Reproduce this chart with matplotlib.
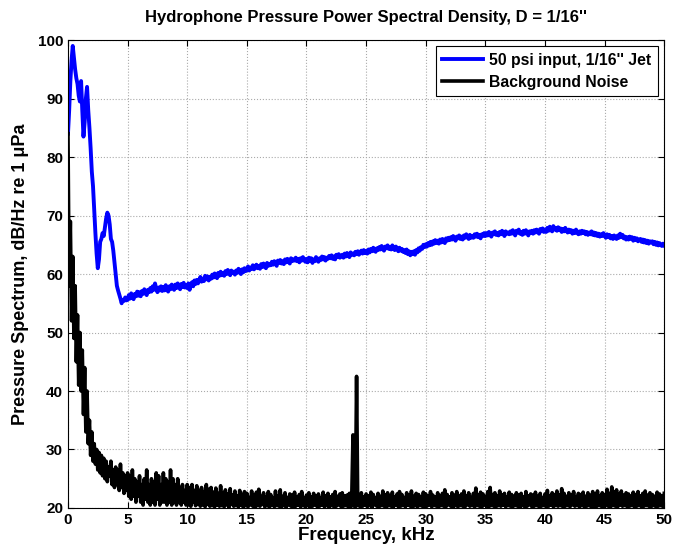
import numpy as np
import matplotlib
matplotlib.use('Agg')
import matplotlib.pyplot as plt

plt.rcParams['font.family'] = ['Liberation Sans', 'DejaVu Sans']
plt.rcParams['font.weight'] = 'bold'

# jet spectrum, one value every 0.1 kHz (rows = 1 kHz)
freq_jet = np.arange(501) * 0.1
psd_jet = [
    84, 88, 93, 96.5, 99, 97, 95, 93.5, 92.5, 90.5,
    89.5, 93, 88, 83.5, 86, 90, 92, 88, 85, 81.5,
    77.5, 75, 71, 67, 63.5, 61, 62.5, 65.5, 66, 67,
    66.5, 68, 69.5, 70.5, 70, 68.5, 66, 65.5, 64, 62,
    60, 58, 57.2, 56.5, 55.8, 55.0, 55.6, 55.4, 56.0, 55.5,
    55.6, 56.4, 55.8, 56.7, 56.1, 55.7, 56.6, 56.2, 57.0, 56.3,
    56.9, 56.2, 57.1, 56.6, 57.4, 56.8, 56.4, 57.3, 56.9, 57.6,
    57.0, 57.9, 57.3, 58.4, 57.5, 56.9, 57.7, 57.2, 57.9, 57.1,
    57.8, 57.2, 58.1, 57.5, 57.0, 57.9, 57.4, 58.2, 57.6, 57.3,
    58.2, 57.6, 58.4, 57.9, 57.4, 58.3, 57.8, 58.5, 57.7, 58.1,
    57.6, 58.4, 57.3, 58.2, 58.6, 57.9, 58.9, 58.3, 59.0, 58.4,
    58.9, 59.5, 58.7, 59.2, 58.8, 59.7, 59.1, 59.6, 58.9, 59.5,
    59.2, 59.9, 59.4, 60.1, 59.6, 59.3, 60.2, 59.7, 60.4, 59.8,
    60.2, 59.7, 60.5, 60.0, 60.7, 60.1, 59.8, 60.6, 60.2, 60.4,
    59.9, 60.6, 60.2, 60.9, 60.4, 60.0, 60.8, 60.3, 61.0, 60.5,
    60.8, 61.3, 60.6, 61.1, 60.9, 61.5, 60.8, 61.2, 61.6, 61.0,
    61.4, 60.9, 61.7, 61.2, 61.8, 61.3, 61.0, 61.9, 61.4, 61.7,
    61.5, 62.1, 61.6, 62.2, 61.8, 61.4, 62.3, 61.9, 62.4, 61.8,
    62.2, 61.7, 62.5, 62.0, 62.6, 62.1, 61.8, 62.7, 62.2, 62.5,
    62.3, 62.8, 62.2, 62.6, 62.0, 62.7, 62.3, 62.9, 62.4, 62.1,
    62.6, 62.0, 62.8, 62.3, 62.7, 61.9, 62.5, 62.2, 62.9, 62.4,
    62.1, 62.7, 62.4, 63.0, 62.5, 62.9, 62.3, 62.8, 62.6, 63.1,
    62.7, 63.2, 62.6, 63.0, 62.5, 63.3, 62.9, 63.4, 62.8, 63.1,
    63.3, 62.8, 63.5, 63.0, 63.6, 63.2, 62.9, 63.7, 63.3, 63.5,
    63.2, 63.8, 63.4, 63.9, 63.3, 63.7, 64.0, 63.5, 64.1, 63.6,
    63.9, 63.5, 64.2, 63.7, 64.3, 63.9, 64.5, 64.0, 63.8, 64.4,
    64.1, 64.6, 64.2, 64.8, 64.3, 64.0, 64.7, 64.4, 64.9, 64.3,
    64.6, 64.2, 64.9, 64.4, 64.1, 64.7, 64.3, 63.9, 64.5, 64.0,
    64.3, 63.8, 64.1, 63.6, 64.2, 63.4, 63.9, 63.2, 63.8, 63.4,
    63.9, 63.3, 64.1, 63.7, 64.4, 64.0, 64.6, 64.3, 65.0, 64.6,
    65.1, 64.7, 65.3, 64.9, 65.5, 65.0, 65.6, 65.2, 65.8, 65.3,
    65.7, 65.2, 65.9, 65.4, 66.0, 65.6, 65.3, 66.1, 65.7, 66.2,
    65.8, 66.3, 65.9, 66.5, 66.0, 65.7, 66.4, 66.1, 66.6, 66.0,
    66.4, 65.9, 66.6, 66.2, 66.8, 66.3, 66.0, 66.7, 66.2, 66.5,
    66.2, 66.8, 66.4, 66.9, 66.3, 66.7, 66.1, 66.8, 66.5, 67.0,
    66.5, 67.0, 66.6, 67.2, 66.7, 66.4, 67.1, 66.8, 67.3, 66.7,
    67.0, 66.6, 67.2, 66.8, 67.4, 66.9, 66.5, 67.3, 66.9, 67.1,
    66.8, 67.3, 66.9, 67.5, 67.0, 66.6, 67.4, 67.1, 67.6, 66.9,
    67.2, 66.7, 67.4, 66.9, 67.5, 67.0, 66.6, 67.3, 67.0, 67.4,
    66.9, 67.5, 67.1, 67.6, 67.2, 66.9, 67.7, 67.3, 67.8, 67.2,
    67.6, 67.2, 67.9, 67.4, 68.1, 67.5, 67.3, 68.2, 67.6, 67.9,
    67.4, 68.0, 67.5, 67.8, 67.2, 67.7, 67.3, 67.9, 67.4, 67.1,
    67.6, 67.2, 67.5, 66.9, 67.4, 67.0, 67.6, 67.1, 66.8, 67.3,
    66.9, 67.4, 67.0, 67.3, 66.8, 67.2, 66.7, 67.1, 66.8, 67.3,
    66.7, 67.1, 66.6, 67.0, 66.5, 66.9, 66.4, 66.8, 66.5, 67.0,
    66.6, 66.2, 66.8, 66.3, 66.7, 66.1, 66.5, 66.0, 66.6, 66.3,
    66.0, 66.6, 66.2, 66.9, 66.3, 66.7, 66.1, 66.4, 65.9, 66.3,
    65.9, 66.4, 66.0, 66.3, 65.7, 66.2, 65.8, 66.1, 65.6, 65.9,
    66.0, 65.5, 65.9, 65.4, 65.8, 65.3, 65.7, 65.2, 65.6, 65.4,
    65.6, 65.1, 65.5, 65.0, 65.4, 64.9, 65.3, 65.0, 64.8, 65.2,
    64.9,
]

# background noise, one value every 0.1 kHz (rows = 1 kHz)
freq_bg = np.arange(501) * 0.1
psd_bg = [
    84, 58, 69, 52, 63, 49, 58, 45, 53, 41,
    50, 40, 47, 36, 44, 33, 40, 31, 35, 29,
    33, 28, 31, 27.5, 30, 26.5, 29.5, 26, 29, 25.5,
    28.5, 25, 28, 24.5, 27, 25.5, 28, 24, 26.5, 23.5,
    27, 24, 26.5, 23, 27.5, 23.5, 26, 22.5, 25.5, 23,
    26, 22, 25.5, 21.5, 26.5, 22, 25, 21, 24.5, 22,
    25.5, 21, 24, 20.5, 25, 21.5, 26.5, 21, 24, 20.5,
    25, 21, 24.5, 20.5, 26, 21.5, 25.5, 20.5, 24, 21,
    26, 21, 25, 20.5, 24.5, 21, 26.5, 20.5, 25, 21,
    24, 20.5, 25, 21, 23.5, 20.5, 24, 21, 23, 20.5,
    24, 20.5, 23.5, 20.3, 24, 21, 23, 20.4, 23.8, 20.6,
    23, 20.3, 23.5, 20.5, 22.8, 20.2, 24, 20.6, 23.2, 20.3,
    23.5, 20.4, 22.7, 20.2, 23.4, 20.5, 22.5, 20.3, 23.8, 20.4,
    22.6, 20.2, 23.1, 20.5, 22.4, 20.1, 23.3, 20.6, 22.2, 20.3,
    22.9, 20.4, 22.1, 20.2, 23.0, 20.5, 22.3, 20.1, 22.8, 20.4,
    22.5, 20.2, 21.8, 20.5, 22.9, 20.3, 22.2, 20.1, 22.7, 20.4,
    23.2, 20.3, 22.0, 20.6, 22.6, 20.2, 21.9, 20.4, 22.8, 20.1,
    22.3, 20.5, 21.7, 20.2, 22.9, 20.4, 22.1, 20.3, 23.1, 20.2,
    22.0, 20.4, 22.6, 20.1, 21.8, 20.5, 22.4, 20.3, 22.2, 20.1,
    22.7, 20.3, 21.9, 20.5, 22.3, 20.2, 22.8, 20.4, 21.7, 20.2,
    22.2, 20.4, 22.6, 20.1, 21.9, 20.3, 22.5, 20.5, 22.0, 20.2,
    22.4, 20.3, 21.8, 20.5, 22.7, 20.2, 22.1, 20.4, 22.5, 20.1,
    21.9, 20.4, 22.3, 20.2, 22.8, 20.3, 22.0, 20.5, 22.4, 20.2,
    22.6, 20.3, 22.1, 20.4, 22.2, 20.2, 22.5, 20.1, 22.3, 32.5,
    20.3, 20.2, 42.5, 20.4, 22.0, 20.2, 22.6, 20.3, 21.9, 20.5,
    22.4, 20.2, 22.1, 20.4, 22.7, 20.1, 22.3, 20.5, 21.8, 20.3,
    22.5, 20.2, 22.0, 20.4, 22.9, 20.3, 22.2, 20.1, 22.6, 20.4,
    22.1, 20.3, 22.7, 20.2, 21.9, 20.5, 22.4, 20.2, 22.8, 20.3,
    22.3, 20.4, 21.8, 20.2, 22.6, 20.5, 22.2, 20.3, 22.9, 20.1,
    22.0, 20.4, 22.5, 20.2, 22.3, 20.4, 21.9, 20.3, 22.7, 20.2,
    22.4, 20.3, 22.1, 20.5, 22.8, 20.2, 22.2, 20.4, 21.9, 20.3,
    22.6, 20.2, 22.0, 20.4, 22.5, 20.3, 23.1, 20.2, 22.3, 20.5,
    21.9, 20.3, 22.6, 20.1, 22.2, 20.4, 22.8, 20.2, 22.0, 20.4,
    22.4, 20.3, 22.9, 20.2, 22.1, 20.5, 22.6, 20.3, 21.8, 20.4,
    22.5, 20.2, 23.4, 20.4, 22.2, 20.3, 22.7, 20.1, 22.4, 20.5,
    22.0, 20.3, 22.8, 20.2, 23.5, 20.4, 22.3, 20.3, 22.6, 20.2,
    22.1, 20.4, 22.9, 20.3, 22.2, 20.5, 22.5, 20.2, 21.9, 20.4,
    22.7, 20.3, 22.3, 20.2, 22.0, 20.4, 22.6, 20.3, 22.2, 20.1,
    22.5, 20.4, 21.9, 20.2, 22.8, 20.3, 22.1, 20.5, 22.4, 20.2,
    22.2, 20.3, 22.7, 20.4, 22.0, 20.2, 22.5, 20.3, 21.8, 20.4,
    22.4, 20.2, 23.0, 20.3, 22.1, 20.5, 22.6, 20.2, 22.3, 20.4,
    22.9, 20.3, 22.2, 20.4, 23.3, 20.2, 22.5, 20.3, 22.0, 20.4,
    22.6, 20.2, 22.2, 20.5, 22.8, 20.3, 21.9, 20.4, 22.5, 20.2,
    22.3, 20.4, 22.7, 20.2, 22.0, 20.3, 22.6, 20.4, 22.2, 20.1,
    22.8, 20.3, 22.4, 20.2, 22.9, 20.4, 22.1, 20.3, 22.6, 20.2,
    22.3, 20.4, 23.2, 20.3, 22.5, 20.2, 23.6, 20.4, 22.7, 20.3,
    23.1, 20.2, 22.4, 20.5, 22.9, 20.3, 22.2, 20.4, 22.6, 20.2,
    22.4, 20.3, 22.0, 20.4, 22.7, 20.2, 22.3, 20.3, 22.8, 20.4,
    22.1, 20.2, 22.5, 20.3, 22.9, 20.4, 22.2, 20.3, 22.6, 20.2,
    22.3, 20.4, 22.0, 20.2, 22.7, 20.3, 22.4, 20.4, 22.1, 20.2,
    22.5,
]

fig = plt.figure(figsize=(6.73, 5.57), dpi=100)
ax = fig.add_axes([0.101, 0.088, 0.886, 0.840])

ax.plot(freq_jet, psd_jet, color='#0000ff', lw=2.8, label="50 psi input, 1/16'' Jet")
ax.plot(freq_bg, psd_bg, color='black', lw=2.6, label='Background Noise')

ax.set_xlim(0, 50)
ax.set_ylim(20, 100)
ax.set_xticks(np.arange(0, 51, 5))
ax.set_yticks(np.arange(20, 101, 10))
ax.grid(True, ls=':', color='#aaaaaa', lw=0.8)
ax.tick_params(direction='in', top=True, right=True, labelsize=11, length=4)
for lab in ax.get_xticklabels() + ax.get_yticklabels():
    lab.set_fontweight('bold')

ax.set_xlabel('Frequency, kHz', fontsize=13.5, fontweight='bold', labelpad=0)
ax.set_ylabel('Pressure Spectrum, dB/Hz re 1 μPa', fontsize=13, fontweight='bold', labelpad=6)
ax.set_title("Hydrophone Pressure Power Spectral Density, D = 1/16''", fontsize=12,
             fontweight='bold', pad=13)

leg = ax.legend(loc='upper right', fontsize=11.3, fancybox=False, framealpha=1,
                edgecolor='black', handlelength=2.6, borderaxespad=0.4,
                handletextpad=0.4, labelspacing=0.45)
leg.get_frame().set_linewidth(0.8)

fig.savefig('out.png', dpi=100)
